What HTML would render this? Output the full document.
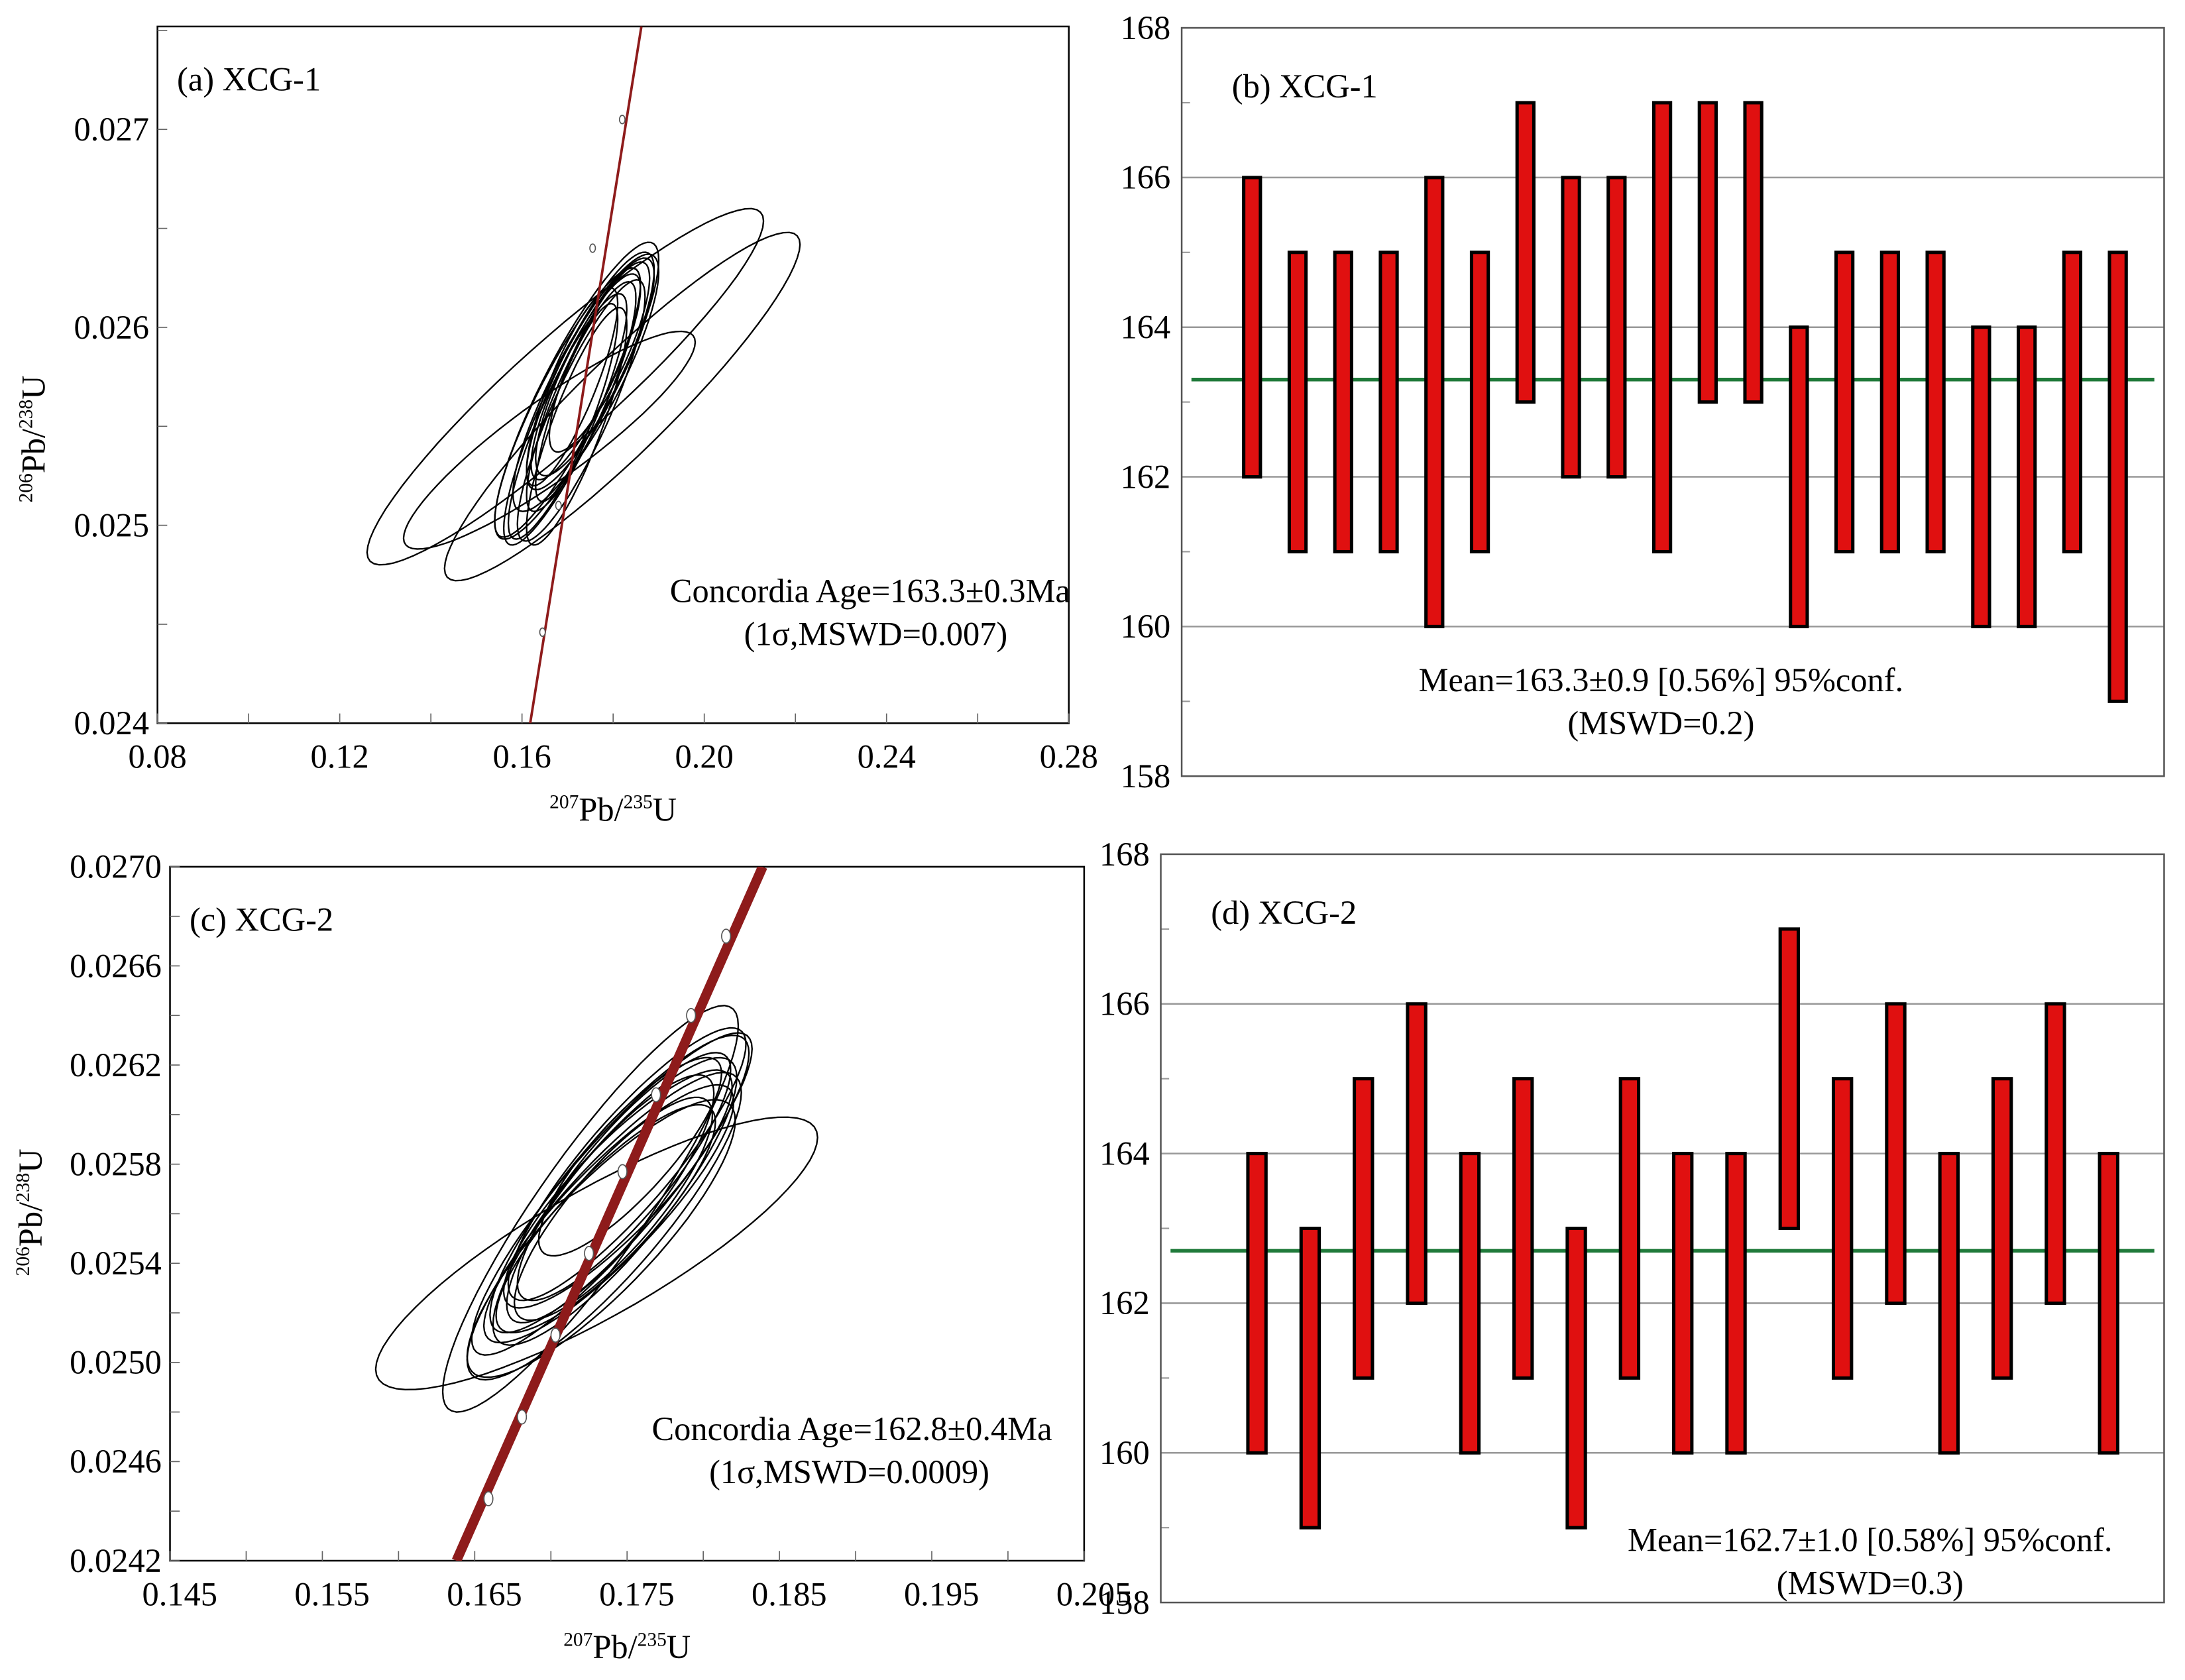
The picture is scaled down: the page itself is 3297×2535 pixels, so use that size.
<!DOCTYPE html>
<html><head><meta charset="utf-8"><style>
html,body{margin:0;padding:0;background:#fff;}
svg{display:block;font-family:"Liberation Serif",serif;}
</style></head><body>
<svg id="fig" width="3297" height="2535" viewBox="0 0 1568 1205.6" xmlns="http://www.w3.org/2000/svg">
<rect width="1568" height="1206" fill="#fff"/>
<g id="pa"></g>
<g id="pb"></g>
<g id="pc"></g>
<g id="pd"></g>
</svg>
<script>
// ---- data ----
const aXTicks = [0.08,0.12,0.16,0.20,0.24,0.28];
const aXTickLabels = ["0.08","0.12","0.16","0.20","0.24","0.28"];
const aYTicks = [0.024,0.025,0.026,0.027];
const aYTickLabels = ["0.024","0.025","0.026","0.027"];
const aEllCx = [0.1695,0.182,0.166,0.172,0.174,0.171,0.175,0.170,0.173,0.176,0.172,0.170,0.174,0.173,0.171,0.177,0.172];
const aEllCy = [0.02570,0.02560,0.02543,0.02568,0.02572,0.02560,0.02578,0.02555,0.02565,0.02580,0.02550,0.02562,0.02575,0.02558,0.02570,0.02585,0.02562];
const aEllSx = [0.0435,0.039,0.032,0.018,0.016,0.015,0.014,0.013,0.012,0.013,0.011,0.016,0.012,0.014,0.010,0.011,0.009];
const aEllSy = [0.00090,0.00088,0.00055,0.00075,0.00065,0.00070,0.00060,0.00062,0.00058,0.00055,0.00060,0.00068,0.00052,0.00066,0.00050,0.00048,0.00050];
const aEllRho = [0.93,0.93,0.90,0.88,0.86,0.88,0.85,0.87,0.86,0.84,0.85,0.88,0.85,0.87,0.84,0.83,0.84];
const aConcX = [0.1618,0.1862];
const aConcY = [0.0240,0.02752];
const aConcDots = [[0.1645,0.02446],[0.1680,0.02510],[0.1755,0.02640],[0.1820,0.02705]];

const cXTicks = [0.145,0.155,0.165,0.175,0.185,0.195,0.205];
const cXTickLabels = ["0.145","0.155","0.165","0.175","0.185","0.195","0.205"];
const cYTicks = [0.0242,0.0246,0.0250,0.0254,0.0258,0.0262,0.0266,0.0270];
const cYTickLabels = ["0.0242","0.0246","0.0250","0.0254","0.0258","0.0262","0.0266","0.0270"];
const cEllCx = [0.1730,0.1726,0.1740,0.1745,0.1735,0.1750,0.1742,0.1738,0.1748,0.1733,0.1744,0.1739,0.1752,0.1736,0.1741];
const cEllCy = [0.02544,0.02562,0.02568,0.02572,0.02555,0.02580,0.02565,0.02560,0.02575,0.02550,0.02570,0.02566,0.02583,0.02558,0.02562];
const cEllSx = [0.0145,0.0097,0.0092,0.0085,0.0090,0.0078,0.0080,0.0082,0.0070,0.0088,0.0075,0.0068,0.0060,0.0072,0.0065];
const cEllSy = [0.00055,0.00082,0.00065,0.00060,0.00062,0.00055,0.00058,0.00052,0.00050,0.00056,0.00048,0.00050,0.00040,0.00046,0.00045];
const cEllRho = [0.85,0.90,0.90,0.88,0.87,0.88,0.86,0.87,0.86,0.85,0.86,0.85,0.84,0.85,0.84];
const cConcX = [0.1638,0.1839];
const cConcY = [0.0242,0.0270];
const cConcDots = [[0.1659,0.02445],[0.1681,0.02478],[0.1703,0.02511],[0.1725,0.02544],[0.1747,0.02577],[0.1769,0.02608],[0.1792,0.02640],[0.1815,0.02672]];

const bTicks = [158,160,162,164,166,168];
const bLow  = [162,161,161,161,160,161,163,162,162,161,163,163,160,161,161,161,160,160,161,159];
const bHigh = [166,165,165,165,166,165,167,166,166,167,167,167,164,165,165,165,164,164,165,165];
const bMean = [163.3];
const dTicks = [158,160,162,164,166,168];
const dLow  = [160,159,161,162,160,161,159,161,160,160,163,161,162,160,161,162,160];
const dHigh = [164,163,165,166,164,165,163,165,164,164,167,165,166,164,165,166,164];
const dMean = [162.7];

const NS="http://www.w3.org/2000/svg";
function mk(parent, tag, attrs){const e=document.createElementNS(NS,tag);for(const k in attrs)e.setAttribute(k,attrs[k]);parent.appendChild(e);return e;}

function concordia(g, box, xr, yr, xt, xtl, yt, ytl, minorX, minorY, E, conc, dots, concW, title, age, mswd, ylabX, ylabY, textX, xlabOff){
  const sx=v=>box.l+(v-xr[0])/(xr[1]-xr[0])*(box.r-box.l);
  const sy=v=>box.b-(v-yr[0])/(yr[1]-yr[0])*(box.b-box.t);
  const fr=mk(g,'rect',{x:box.l,y:box.t,width:box.r-box.l,height:box.b-box.t,fill:'none',stroke:'#000','stroke-width':1.2});
  
  
  const defs=mk(g,'clipPath',{id:'clip'+title[1]});
  mk(defs,'rect',{x:box.l,y:box.t,width:box.r-box.l,height:box.b-box.t});
  const inner=mk(g,'g',{'clip-path':'url(#clip'+title[1]+')'});
  minorX.forEach(v=>{mk(g,'line',{x1:sx(v),x2:sx(v),y1:box.b,y2:box.b-7,stroke:'#666','stroke-width':0.8});});
  minorY.forEach(v=>{mk(g,'line',{x1:box.l,x2:box.l+7,y1:sy(v),y2:sy(v),stroke:'#666','stroke-width':0.8});});
  xt.forEach((v,i)=>{const t=mk(g,'text',{x:sx(v)+xlabOff,y:box.b+32,'font-size':24,'text-anchor':'middle'});t.textContent=xtl[i];
    
    });
  yt.forEach((v,i)=>{const t=mk(g,'text',{x:box.l-6,y:sy(v)+8,'font-size':24,'text-anchor':'end'});t.textContent=ytl[i];
    
    });
  for(let k=0;k<E.cx.length;k++){
    let d='';
    for(let i=0;i<=72;i++){const a=i/72*2*Math.PI;
      const x=E.cx[k]+E.sx[k]*Math.cos(a);
      const y=E.cy[k]+E.sy[k]*(E.rho[k]*Math.cos(a)+Math.sqrt(1-E.rho[k]*E.rho[k])*Math.sin(a));
      d+=(i?'L':'M')+sx(x).toFixed(1)+' '+sy(y).toFixed(1);}
    const p=mk(inner,'path',{d:d+'Z',fill:'none',stroke:'#000','stroke-width':1.1});
    
    
  }
  const cl=mk(inner,'line',{x1:sx(conc[0][0]),y1:sy(conc[1][0]),x2:sx(conc[0][1]),y2:sy(conc[1][1]),stroke:'#8e1b1b','stroke-width':concW});
  
  
  dots.forEach(p=>{const c=mk(inner,'ellipse',{cx:sx(p[0]),cy:sy(p[1]),rx:concW>3?3.2:2,ry:concW>3?5:3,fill:'#fff',stroke:'#555','stroke-width':0.8});
    
    });
  const tt=mk(g,'text',{x:box.l+14,y:box.t+46,'font-size':24});tt.textContent=title;
  
  
  const ty=sy(yr[0])-(box.b-box.t)*0.17-2;
  const t1=mk(g,'text',{x:textX,y:ty,'font-size':24,'text-anchor':'end'});t1.textContent=age;
  
  
  const t2=mk(g,'text',{x:textX-45,y:ty+31,'font-size':24,'text-anchor':'end'});t2.textContent=mswd;
  
  
  const xl=mk(g,'text',{x:(box.l+box.r)/2,y:box.b+70,'font-size':24,'text-anchor':'middle'});
  xl.innerHTML='<tspan font-size="14" dy="-9">207</tspan><tspan dy="9">Pb/</tspan><tspan font-size="14" dy="-9">235</tspan><tspan dy="9">U</tspan>';
  
  
  const yl=mk(g,'text',{x:0,y:0,'font-size':24,'text-anchor':'middle',transform:`translate(${ylabX},${ylabY}) rotate(-90)`});
  yl.innerHTML='<tspan font-size="14" dy="-9">206</tspan><tspan dy="9">Pb/</tspan><tspan font-size="14" dy="-9">238</tspan><tspan dy="9">U</tspan>';
  
  
}

function range(a,b,s){const r=[];for(let v=a;v<=b+1e-12;v+=s)r.push(+v.toFixed(6));return r;}

concordia(document.getElementById('pa'),{l:113,r:767,t:19,b:519},[0.08,0.28],[0.024,0.02752],
  aXTicks,aXTickLabels,aYTicks,aYTickLabels,range(0.08,0.28,0.02),range(0.024,0.0275,0.0005),
  {cx:aEllCx,cy:aEllCy,sx:aEllSx,sy:aEllSy,rho:aEllRho},[aConcX,aConcY],aConcDots,1.8,
  '(a) XCG-1','Concordia Age=163.3±0.3Ma','(1σ,MSWD=0.007)',32,315,768,0);

concordia(document.getElementById('pc'),{l:122,r:778,t:622,b:1120},[0.145,0.205],[0.0242,0.0270],
  cXTicks,cXTickLabels,cYTicks,cYTickLabels,range(0.145,0.205,0.005),range(0.0242,0.027,0.0002),
  {cx:cEllCx,cy:cEllCy,sx:cEllSx,sy:cEllSy,rho:cEllRho},[cConcX,cConcY],cConcDots,7,
  '(c) XCG-2','Concordia Age=162.8±0.4Ma','(1σ,MSWD=0.0009)',30,870,755,7);

function wmean(g, box, ticks, lo, hi, mean, title, l1, l2, tx, ty, bw, x0, dx){
  const sy=v=>box.b-(v-158)/10*(box.b-box.t);
  ticks.forEach(v=>{
    if(v>158&&v<168){const l=mk(g,'line',{x1:box.l,x2:box.r,y1:sy(v),y2:sy(v),stroke:'#999','stroke-width':1.2});
      
      }
    const t=mk(g,'text',{x:box.l-8,y:sy(v)+8,'font-size':24,'text-anchor':'end'});t.textContent=String(v);
    
    
  });
  [159,161,163,165,167].forEach(v=>{mk(g,'line',{x1:box.l,x2:box.l+6,y1:sy(v),y2:sy(v),stroke:'#999','stroke-width':1});});
  const fr=mk(g,'rect',{x:box.l,y:box.t,width:box.r-box.l,height:box.b-box.t,fill:'none',stroke:'#555','stroke-width':1.2});
  
  
  const ml=mk(g,'line',{x1:box.l+7,x2:box.r-7,y1:sy(mean[0]),y2:sy(mean[0]),stroke:'#1f7a3a','stroke-width':2.6});
  
  
  lo.forEach((v,i)=>{
    const cx=x0+i*dx;
    const r=mk(g,'rect',{x:cx-bw/2,y:sy(hi[i]),width:bw,height:sy(v)-sy(hi[i]),fill:'#e01010',stroke:'#000','stroke-width':2.4});
    
    
  });
  const tt=mk(g,'text',{x:box.l+36,y:box.t+50,'font-size':24});tt.textContent=title;
  
  
  const a=mk(g,'text',{x:tx,y:ty,'font-size':24,'text-anchor':'middle'});a.textContent=l1;
  
  
  const b=mk(g,'text',{x:tx,y:ty+31,'font-size':24,'text-anchor':'middle'});b.textContent=l2;
  
  
}
wmean(document.getElementById('pb'),{l:848,r:1553,t:20,b:557},bTicks,bLow,bHigh,bMean,
  '(b) XCG-1','Mean=163.3±0.9 [0.56%] 95%conf.','(MSWD=0.2)',1192,496,12,898.5,32.7);
wmean(document.getElementById('pd'),{l:833,r:1553,t:613,b:1150},dTicks,dLow,dHigh,dMean,
  '(d) XCG-2','Mean=162.7±1.0 [0.58%] 95%conf.','(MSWD=0.3)',1342,1113,13,902,38.2);
</script>
</body></html>
